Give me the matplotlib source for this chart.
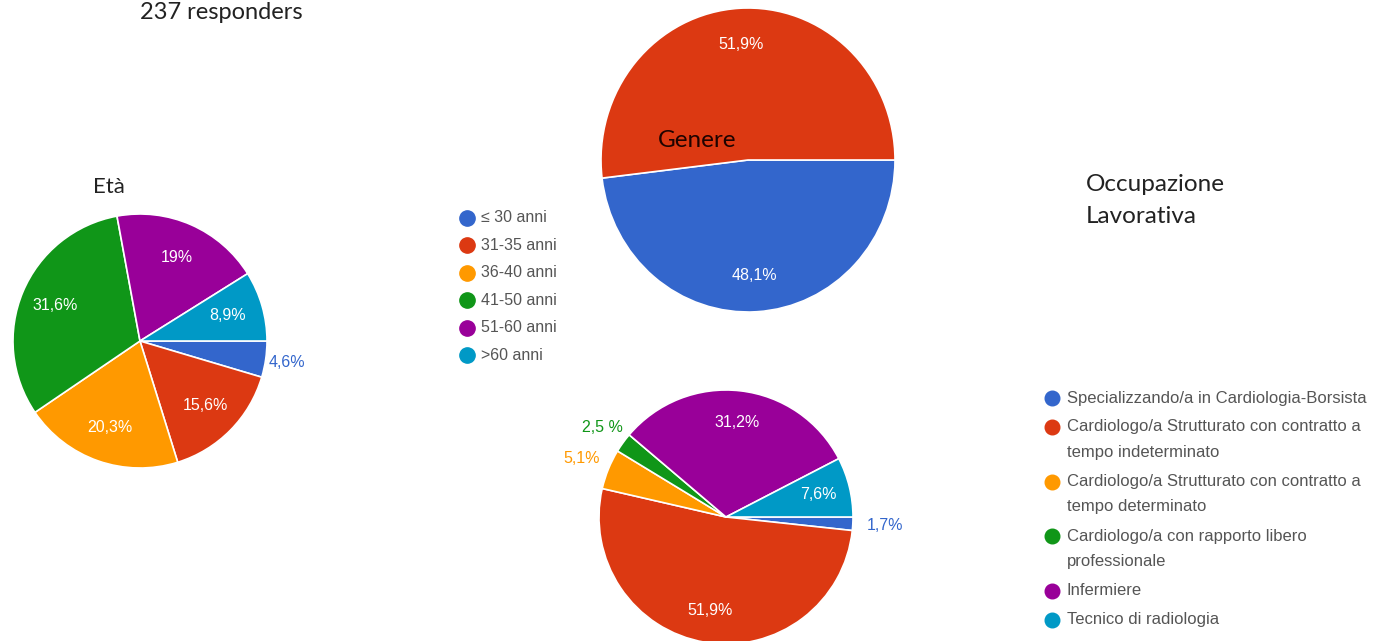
import numpy as np
import matplotlib.pyplot as plt

W, H = 1377, 641

# Google-chart palette
PALETTE = ['#3366cc', '#dc3912', '#ff9900', '#109618', '#990099', '#0099c6']

# Età
eta_values = [4.6, 15.6, 20.3, 31.6, 19.0, 8.9]
eta_labels = ['4,6%', '15,6%', '20,3%', '31,6%', '19%', '8,9%']
eta_legend = ['≤ 30 anni', '31-35 anni', '36-40 anni', '41-50 anni', '51-60 anni', '>60 anni']

# Genere
genere_values = [48.1, 51.9]
genere_labels = ['48,1%', '51,9%']

# Occupazione lavorativa
occ_values = [1.7, 51.9, 5.1, 2.5, 31.2, 7.6]
occ_labels = ['1,7%', '51,9%', '5,1%', '2,5 %', '31,2%', '7,6%']
occ_legend = [
    'Specializzando/a in Cardiologia-Borsista',
    'Cardiologo/a Strutturato con contratto a\ntempo indeterminato',
    'Cardiologo/a Strutturato con contratto a\ntempo determinato',
    'Cardiologo/a con rapporto libero\nprofessionale',
    'Infermiere',
    'Tecnico di radiologia',
]

LABEL_FONT = 'Liberation Sans'
TITLE_FONT = 'Lato'

fig = plt.figure(figsize=(W / 100, H / 100), dpi=100)


def pie_axes(cx, cy, rx, ry):
    # pixel centre / radii -> figure fraction rect
    return fig.add_axes([(cx - rx) / W, (H - cy - ry) / H, 2 * rx / W, 2 * ry / H])


def draw_pie(ax, values, labels, outside, inner_r=0.72):
    wedges, _ = ax.pie(values, colors=PALETTE[:len(values)], startangle=0,
                       counterclock=False, radius=1,
                       wedgeprops=dict(edgecolor='white', linewidth=1.2))
    ax.set_aspect('auto')
    ax.set_xlim(-1, 1)
    ax.set_ylim(-1, 1)
    for i, (w, lab) in enumerate(zip(wedges, labels)):
        mid = np.deg2rad((w.theta1 + w.theta2) / 2)
        if i in outside:
            r, color = outside[i], PALETTE[i]
        else:
            r, color = inner_r, 'white'
        ax.text(r * np.cos(mid), r * np.sin(mid), lab, ha='center', va='center',
                color=color, fontsize=11.5, family=LABEL_FONT, clip_on=False)


ax_eta = pie_axes(140, 341, 127, 127)
draw_pie(ax_eta, eta_values, eta_labels, {0: 1.17})

ax_gen = pie_axes(748, 160, 147, 152)
draw_pie(ax_gen, genere_values, genere_labels, {}, inner_r=0.76)

ax_occ = pie_axes(726, 517, 127, 127)
draw_pie(ax_occ, occ_values, occ_labels, {0: 1.25, 2: 1.23, 3: 1.2}, inner_r=0.75)

# overlay in pixel coordinates for titles and legends
ov = fig.add_axes([0, 0, 1, 1])
ov.set_xlim(0, W)
ov.set_ylim(H, 0)
ov.axis('off')

ov.text(140, 19, '237 responders', fontsize=17, family=TITLE_FONT, color='#222222', va='baseline')
ov.text(93, 193, 'Età', fontsize=16, family=TITLE_FONT, color='#222222', va='baseline')
ov.text(658, 147, 'Genere', fontsize=17.5, family=TITLE_FONT, color='#1e0300', va='baseline')
ov.text(1086, 191, 'Occupazione', fontsize=17.5, family=TITLE_FONT, color='#222222', va='baseline')
ov.text(1086, 223, 'Lavorativa', fontsize=17.5, family=TITLE_FONT, color='#222222', va='baseline')

# Età legend
for i, lab in enumerate(eta_legend):
    y = 218 + 27.4 * i
    ov.plot(467, y, 'o', ms=11, color=PALETTE[i])
    ov.text(481, y, lab, fontsize=11.5, family=LABEL_FONT, color='#555555', va='center')

# Occupazione legend
y = 398
for i, lab in enumerate(occ_legend):
    ov.plot(1052, y, 'o', ms=10.5, color=PALETTE[i])
    for line in lab.split('\n'):
        ov.text(1067, y, line, fontsize=12, family=LABEL_FONT, color='#555555', va='center')
        y += 25.5
    y += 3.5

fig.savefig('out.png', dpi=100, facecolor='white')
